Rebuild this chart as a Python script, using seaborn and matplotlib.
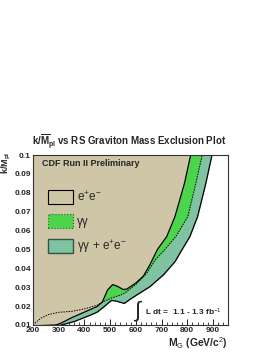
import numpy as np
import pandas as pd
import matplotlib
matplotlib.use("Agg")
import matplotlib.pyplot as plt
from matplotlib.patches import Patch
from matplotlib.ticker import MultipleLocator
import seaborn as sns

# limit curves (graviton mass in GeV/c^2, coupling k/Mpl)
mass_ee = [200, 290, 310, 350, 400, 450, 470, 490, 510, 530, 550, 565, 600, 630, 655,
           684, 720, 752, 789, 813]
k_ee = [0.0095, 0.0100, 0.0110, 0.0138, 0.0168, 0.0198, 0.0222, 0.0285, 0.0314, 0.0304,
        0.0288, 0.0290, 0.0322, 0.0360, 0.0420, 0.0500, 0.0568, 0.0674, 0.0850, 0.1000]

mass_gg = [200, 230, 260, 300, 350, 400, 450, 480, 510, 540, 560, 600, 640, 675, 713,
           755, 802, 833, 858]
k_gg = [0.0100, 0.0135, 0.0155, 0.0167, 0.0172, 0.0185, 0.0205, 0.0228, 0.0245, 0.0258,
        0.0272, 0.0315, 0.0370, 0.0444, 0.0500, 0.0568, 0.0674, 0.0850, 0.1000]

mass_comb = [298, 320, 360, 420, 450, 475, 505, 525, 555, 580, 605, 655, 707, 752, 780,
             810, 840, 872, 896]
k_comb = [0.0095, 0.0103, 0.0118, 0.0150, 0.0168, 0.0195, 0.0230, 0.0226, 0.0214, 0.0238,
          0.0260, 0.0303, 0.0365, 0.0435, 0.0500, 0.0568, 0.0674, 0.0850, 0.1000]

tan = "#cec6a6"
green = "#4dd44d"
teal = "#80c3a3"

sns.set_theme(style="white")
plt.rcParams["font.family"] = ["Liberation Sans", "DejaVu Sans"]
plt.rcParams["mathtext.fontset"] = "custom"
plt.rcParams["mathtext.rm"] = "Liberation Sans"
plt.rcParams["mathtext.it"] = "Liberation Sans:italic"
plt.rcParams["mathtext.bf"] = "Liberation Sans:bold"

fig = plt.figure(figsize=(2.74, 3.54), dpi=100)
ax = fig.add_axes([0.12, 0.082, 0.712, 0.48])

# fills: combined first, then diphoton, then dielectron on top
ax.fill_between(mass_comb, k_comb, 0.1, color=teal, lw=0)
ax.fill_between(mass_gg, k_gg, 0.1, color=green, lw=0)
ax.fill_between(mass_ee, k_ee, 0.1, color=tan, lw=0)

df_ee = pd.DataFrame({"mass": mass_ee, "k": k_ee})
df_gg = pd.DataFrame({"mass": mass_gg, "k": k_gg})
df_comb = pd.DataFrame({"mass": mass_comb, "k": k_comb})
sns.lineplot(data=df_comb, x="mass", y="k", color="black", lw=0.9, sort=False, ax=ax)
sns.lineplot(data=df_ee, x="mass", y="k", color="black", lw=0.9, sort=False, ax=ax)
sns.lineplot(data=df_gg, x="mass", y="k", color="black", lw=0.7, ls=(0, (1.5, 1.2)),
             sort=False, ax=ax)

ax.set_xlim(200, 958)
ax.set_ylim(0.01, 0.1)
ax.xaxis.set_major_locator(MultipleLocator(100))
ax.xaxis.set_minor_locator(MultipleLocator(20))
ax.yaxis.set_major_locator(MultipleLocator(0.01))
ax.yaxis.set_minor_locator(MultipleLocator(0.002))
ax.tick_params(which="both", direction="in", top=False, right=False, left=True, bottom=True,
               pad=1.5, labelsize=6)
ax.tick_params(which="major", length=4, width=0.7)
ax.tick_params(which="minor", length=2, width=0.6)
ax.set_yticks(ax.get_yticks())
ax.set_yticklabels([f"{t:g}" for t in ax.get_yticks()], fontweight="bold")
ax.set_xticks(ax.get_xticks())
ax.set_xticklabels([f"{t:g}" for t in ax.get_xticks()], fontweight="bold")
ax.set_xlim(200, 958)
ax.set_ylim(0.01, 0.1)
ax.set_xlabel("")
ax.set_ylabel("")
for s in ax.spines.values():
    s.set_linewidth(0.8)
    s.set_color("#333333")

fig.text(0.47, 0.600, r"k/$\overline{\mathbf{M}}_{\mathbf{pl}}$ vs RS Graviton Mass Exclusion Plot",
         ha="center", va="center", fontsize=7, fontweight="bold")
fig.text(0.022, 0.572, r"k/$\overline{\mathbf{M}}_{\mathbf{pl}}$", rotation=90, ha="center",
         va="top", fontsize=6.5, fontweight="bold")
fig.text(0.832, 0.03, r"M$_{\mathrm{G}}$ (GeV/c$^{2}$)", ha="right", va="center",
         fontsize=7.5, fontweight="bold")
ax.text(0.045, 0.953, "CDF Run II Preliminary", transform=ax.transAxes, fontsize=6.5,
        fontweight="bold", va="center")
ax.text(0.515, 0.08, r"$\int$", transform=ax.transAxes, fontsize=16, va="center")
ax.text(0.575, 0.075, r"L dt =  1.1 - 1.3 fb$^{-1}$", transform=ax.transAxes, fontsize=6,
        fontweight="bold", va="center")

handles = [Patch(facecolor="none", edgecolor="black", lw=0.8),
           Patch(facecolor=green, edgecolor="#226622", lw=0.8, ls=":"),
           Patch(facecolor=teal, edgecolor="#335544", lw=1.0)]
labels = [r"e$^{+}$e$^{-}$", "\u03b3\u03b3", "\u03b3\u03b3 + e$^{+}$e$^{-}$"]
ax.legend(handles, labels, loc="upper left", bbox_to_anchor=(0.055, 0.825), frameon=False,
          fontsize=8.5, handlelength=2.1, handleheight=1.5, handletextpad=0.3,
          labelspacing=0.85, borderaxespad=0)

fig.savefig("out.png", dpi=100)
